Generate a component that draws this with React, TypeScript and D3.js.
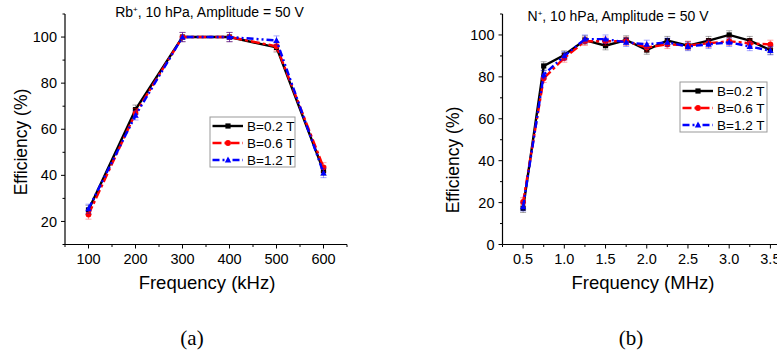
import React from "react";
import * as d3 from "d3";

// ---------- Data ----------
const freqA = [100, 200, 300, 400, 500, 600];
const effA_02 = [25, 68.5, 100, 100, 95.5, 42];
const effA_06 = [23, 67, 100, 100, 96, 43.5];
const effA_12 = [25.5, 66, 100, 100, 98.5, 41];
const errA = [2, 2, 2, 2, 2, 2];

const freqB = [0.5, 0.75, 1.0, 1.25, 1.5, 1.75, 2.0, 2.25, 2.5, 2.75, 3.0, 3.25, 3.5];
const effB_02 = [17.3, 85.2, 90.4, 97.6, 94.9, 97.6, 92.8, 97.3, 94.9, 97.3, 100, 97.3, 92.8];
const effB_06 = [20.3, 79.3, 89, 97, 97, 97, 94, 95.5, 95, 96, 97, 96, 95.5];
const effB_12 = [18, 81, 90, 98, 98, 96.5, 95.5, 96.5, 94.5, 95.5, 96.5, 94.5, 92.5];
const errB = [2, 2, 2, 2, 2, 2, 2, 2, 2, 2, 2, 2, 2];

const seriesLabels = ["B=0.2 T", "B=0.6 T", "B=1.2 T"];

const xTicksA = [100, 200, 300, 400, 500, 600];
const xMinorA = [50, 150, 250, 350, 450, 550, 650];
const yTicksA = [20, 40, 60, 80, 100];
const yMinorA = [10, 30, 50, 70, 90, 110];

const xTicksB = [0.5, 1.0, 1.5, 2.0, 2.5, 3.0, 3.5];
const xMinorB = [0.25, 0.75, 1.25, 1.75, 2.25, 2.75, 3.25, 3.75];
const yTicksB = [0, 20, 40, 60, 80, 100];
const yMinorB = [10, 30, 50, 70, 90, 110];

// ---------- Styles ----------
const COLORS = ["#000000", "#ff0000", "#0000ff"];
const DASHES = [undefined, "9,3,3,3", "7,3,2,3,2,3"];
const SANS = "'Liberation Sans', Arial, sans-serif";

type Series = { ys: number[]; err: number[] };

function Marker({ kind, x, y, color }: { kind: number; x: number; y: number; color: string }) {
  if (kind === 0) return <rect x={x - 2.6} y={y - 2.6} width={5.2} height={5.2} fill={color} />;
  if (kind === 1) return <circle cx={x} cy={y} r={2.9} fill={color} />;
  return <path d={`M${x},${y - 3.4}L${x + 3.2},${y + 2.4}L${x - 3.2},${y + 2.4}Z`} fill={color} />;
}

function Panel(props: {
  xs: number[];
  series: Series[];
  xDomain: [number, number];
  xRange: [number, number];
  yDomain: [number, number];
  yRange: [number, number];
  xTicks: number[];
  xMinor: number[];
  yTicks: number[];
  yMinor: number[];
  xFmt: (v: number) => string;
  title: React.ReactNode;
  titleX: number;
  titleY: number;
  xLabel: string;
  xLabelX: number;
  yLabelX: number;
  yLabelY: number;
  legend: { x: number; y: number; w: number; h: number; rows: number[] };
  caption: string;
  captionX: number;
}) {
  const x = d3.scaleLinear().domain(props.xDomain).range(props.xRange);
  const y = d3.scaleLinear().domain(props.yDomain).range(props.yRange);
  const [x0, x1] = props.xRange;
  const [y0, y1] = props.yRange; // y0 bottom, y1 top
  const line = d3
    .line<[number, number]>()
    .x((d) => x(d[0]))
    .y((d) => y(d[1]));
  const lg = props.legend;
  return (
    <g>
      {/* title */}
      <text x={props.titleX} y={props.titleY} textAnchor="middle" fontFamily={SANS} fontSize={14} fill="#000">
        {props.title}
      </text>
      {/* axes */}
      <line x1={x0} x2={x0} y1={y0} y2={y1} stroke="#000" strokeWidth={1.2} />
      <line x1={x0} x2={x1} y1={y0} y2={y0} stroke="#000" strokeWidth={1.2} />
      {props.yTicks.map((t) => (
        <g key={"yt" + t}>
          <line x1={x0 - 4} x2={x0} y1={y(t)} y2={y(t)} stroke="#000" strokeWidth={1} />
          <text x={x0 - 8} y={y(t)} dy="0.35em" textAnchor="end" fontFamily={SANS} fontSize={14.5}>
            {t}
          </text>
        </g>
      ))}
      {props.yMinor.map((t) => (
        <line key={"ym" + t} x1={x0 - 2.5} x2={x0} y1={y(t)} y2={y(t)} stroke="#000" strokeWidth={1} />
      ))}
      {props.xTicks.map((t) => (
        <g key={"xt" + t}>
          <line x1={x(t)} x2={x(t)} y1={y0} y2={y0 + 4} stroke="#000" strokeWidth={1} />
          <text x={x(t)} y={y0 + 19.5} textAnchor="middle" fontFamily={SANS} fontSize={14.5}>
            {props.xFmt(t)}
          </text>
        </g>
      ))}
      {props.xMinor.map((t) => (
        <line key={"xm" + t} x1={x(t)} x2={x(t)} y1={y0} y2={y0 + 2.5} stroke="#000" strokeWidth={1} />
      ))}
      {/* axis labels */}
      <text x={props.xLabelX} y={y0 + 44} textAnchor="middle" fontFamily={SANS} fontSize={18.5}>
        {props.xLabel}
      </text>
      <text
        transform={`translate(${props.yLabelX},${props.yLabelY}) rotate(-90)`}
        textAnchor="middle"
        dy="0.35em"
        fontFamily={SANS}
        fontSize={17.5}
      >
        Efficiency (%)
      </text>
      {/* series */}
      {props.series.map((s, i) => {
        const pts: [number, number][] = props.xs.map((xv, k) => [xv, s.ys[k]]);
        return (
          <g key={"s" + i}>
            {pts.map((p, k) => (
              <g key={"e" + k} stroke={COLORS[i]} strokeOpacity={0.35} strokeWidth={1}>
                <line x1={x(p[0])} x2={x(p[0])} y1={y(p[1] - s.err[k])} y2={y(p[1] + s.err[k])} />
                <line x1={x(p[0]) - 3} x2={x(p[0]) + 3} y1={y(p[1] - s.err[k])} y2={y(p[1] - s.err[k])} />
                <line x1={x(p[0]) - 3} x2={x(p[0]) + 3} y1={y(p[1] + s.err[k])} y2={y(p[1] + s.err[k])} />
              </g>
            ))}
            <path d={line(pts) || ""} fill="none" stroke={COLORS[i]} strokeWidth={2.4} strokeDasharray={DASHES[i]} />
            {pts.map((p, k) => (
              <Marker key={"m" + k} kind={i} x={x(p[0])} y={y(p[1])} color={COLORS[i]} />
            ))}
          </g>
        );
      })}
      {/* legend */}
      <rect x={lg.x} y={lg.y} width={lg.w} height={lg.h} fill="#fff" stroke="#999" strokeWidth={1} />
      {seriesLabels.map((lab, i) => (
        <g key={"l" + i}>
          <line
            x1={lg.x + 2.5}
            x2={lg.x + 33}
            y1={lg.rows[i]}
            y2={lg.rows[i]}
            stroke={COLORS[i]}
            strokeWidth={2.4}
            strokeDasharray={DASHES[i]}
          />
          <Marker kind={i} x={lg.x + 18} y={lg.rows[i]} color={COLORS[i]} />
          <text x={lg.x + 37} y={lg.rows[i]} dy="0.36em" fontFamily={SANS} fontSize={13.5}>
            {lab}
          </text>
        </g>
      ))}
      {/* caption */}
      <text x={props.captionX} y={345} textAnchor="middle" fontFamily="'Liberation Serif', 'DejaVu Serif', serif" fontSize={21}>
        {props.caption}
      </text>
    </g>
  );
}

export default function App() {
  const fmt1 = d3.format(".1f");
  return (
    <svg
      width={777}
      height={356}
      viewBox="0 0 777 356"
      style={{ position: "absolute", left: 0, top: 0, background: "#fff" }}
    >
      <rect width={777} height={356} fill="#fff" />
      <Panel
        xs={freqA}
        series={[
          { ys: effA_02, err: errA },
          { ys: effA_06, err: errA },
          { ys: effA_12, err: errA },
        ]}
        xDomain={[50, 650]}
        xRange={[65, 347]}
        yDomain={[10, 110]}
        yRange={[244.5, 14]}
        xTicks={xTicksA}
        xMinor={xMinorA}
        yTicks={yTicksA}
        yMinor={yMinorA}
        xFmt={(v) => String(v)}
        title={
          <>
            Rb<tspan fontSize={8} dy={-5}>+</tspan>
            <tspan dy={5}>, 10 hPa, Amplitude = 50 V</tspan>
          </>
        }
        titleX={209.5}
        titleY={17}
        xLabel="Frequency (kHz)"
        xLabelX={207}
        yLabelX={21}
        yLabelY={142}
        legend={{ x: 210, y: 117, w: 85, h: 50, rows: [126, 143, 160] }}
        caption="(a)"
        captionX={192}
      />
      <Panel
        xs={freqB}
        series={[
          { ys: effB_02, err: errB },
          { ys: effB_06, err: errB },
          { ys: effB_12, err: errB },
        ]}
        xDomain={[0.25, 3.75]}
        xRange={[502.5, 791]}
        yDomain={[0, 110]}
        yRange={[244.5, 14]}
        xTicks={xTicksB}
        xMinor={xMinorB}
        yTicks={yTicksB}
        yMinor={yMinorB}
        xFmt={fmt1}
        title={
          <>
            N<tspan fontSize={8} dy={-5}>+</tspan>
            <tspan dy={5}>, 10 hPa, Amplitude = 50 V</tspan>
          </>
        }
        titleX={618}
        titleY={21}
        xLabel="Frequency (MHz)"
        xLabelX={643}
        yLabelX={453}
        yLabelY={160}
        legend={{ x: 680, y: 82, w: 87, h: 50, rows: [91, 108, 125] }}
        caption="(b)"
        captionX={631}
      />
    </svg>
  );
}
